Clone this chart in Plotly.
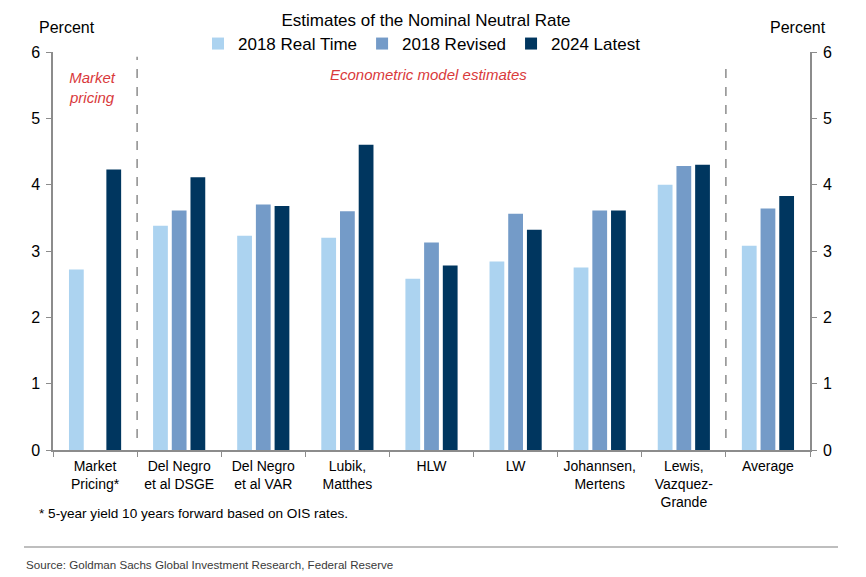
import plotly.graph_objects as go

categories = ["Market<br>Pricing*", "Del Negro<br>et al DSGE", "Del Negro<br>et al VAR", "Lubik,<br>Matthes",
              "HLW", "LW", "Johannsen,<br>Mertens", "Lewis,<br>Vazquez-<br>Grande", "Average"]
real_time_2018 = [2.72, 3.38, 3.23, 3.20, 2.58, 2.84, 2.75, 4.00, 3.08]
revised_2018 = [None, 3.61, 3.70, 3.60, 3.13, 3.56, 3.61, 4.28, 3.64]
latest_2024 = [4.23, 4.11, 3.68, 4.60, 2.78, 3.32, 3.61, 4.30, 3.83]
y_ticks = [0, 1, 2, 3, 4, 5, 6]

FONT = "Liberation Sans, Arial, sans-serif"
C1, C2, C3 = "#acd3f0", "#749bc8", "#00365f"
AX = "#8c8c8c"
RED = "#d9393b"

fig = go.Figure()
for name, vals, col in [("2018 Real Time", real_time_2018, C1),
                        ("2018 Revised", revised_2018, C2),
                        ("2024 Latest", latest_2024, C3)]:
    fig.add_trace(go.Bar(x=categories, y=vals, name=name, marker=dict(color=col, line=dict(width=0))))

# invisible trace to activate the right axis
fig.add_trace(go.Scatter(x=[categories[0]], y=[0], yaxis="y2", mode="markers",
                         marker=dict(opacity=0), showlegend=False, hoverinfo="skip"))

fig.update_layout(
    width=866, height=577,
    margin=dict(l=53, r=56, t=52, b=127),
    plot_bgcolor="white", paper_bgcolor="white",
    font=dict(family=FONT, color="#000000"),
    barmode="group", bargap=0.333, bargroupgap=0.21,
    title=dict(text="Estimates of the Nominal Neutral Rate", x=426/866, xanchor="center",
               y=1-20/577, yanchor="middle", font=dict(size=17, family=FONT)),
    legend=dict(orientation="h", x=(198-53)/757, xanchor="left", y=1+(52-44)/398, yanchor="middle",
                font=dict(size=17, family=FONT), bgcolor="rgba(0,0,0,0)", itemwidth=30,
                traceorder="normal"),
    xaxis=dict(showline=True, linecolor=AX, linewidth=1.5, ticks="outside", tickson="boundaries",
               ticklen=5, tickcolor=AX, tickfont=dict(size=14, family=FONT), showgrid=False,
               range=[-0.5, 8.5], ticklabelstandoff=2),
    yaxis=dict(range=[0, 6], tickvals=y_ticks, showline=True, linecolor=AX, linewidth=1.5,
               ticks="outside", ticklen=5, tickcolor=AX, tickfont=dict(size=16, family=FONT),
               showgrid=False, zeroline=False, ticklabelstandoff=3),
    yaxis2=dict(range=[0, 6], tickvals=y_ticks, overlaying="y", side="right", showline=True,
                linecolor=AX, linewidth=1.5, ticks="outside", ticklen=5, tickcolor=AX,
                tickfont=dict(size=16, family=FONT), showgrid=False, zeroline=False,
                ticklabelstandoff=3),
    showlegend=True,
)

# dashed separators
for xv, y0, y1 in [(0.5, 0.18, 5.93), (7.5, 0.18, 5.88)]:
    fig.add_shape(type="line", xref="x", yref="y", x0=xv, x1=xv, y0=y0, y1=y1,
                  line=dict(color="#8c8c8c", width=1.5, dash="dash"))

# bottom separator line
fig.add_shape(type="line", xref="paper", yref="paper", x0=(24-53)/757, x1=(838-53)/757,
              y0=(450-547)/398, y1=(450-547)/398, line=dict(color="#a8a8a8", width=1.5))

ann = [
    dict(text="Percent", x=(67-53)/757, y=(450-27)/398, size=16, color="#000000", anchor="center"),
    dict(text="Percent", x=(798-53)/757, y=(450-27)/398, size=16, color="#000000", anchor="center"),
    dict(text="<i>Market<br>pricing</i>", x=(92-53)/757, y=(450-87)/398, size=15, color=RED, anchor="center"),
    dict(text="<i>Econometric model estimates</i>", x=(428-53)/757, y=(450-75)/398, size=15, color=RED, anchor="center"),
]
for a in ann:
    fig.add_annotation(text=a["text"], xref="paper", yref="paper", x=a["x"], y=a["y"],
                       xanchor=a["anchor"], yanchor="middle", showarrow=False,
                       font=dict(size=a["size"], color=a["color"], family=FONT))

fig.add_annotation(text="* 5-year yield 10 years forward based on OIS rates.", xref="paper", yref="paper",
                   x=(37-53)/757, y=(450-513)/398, xanchor="left", yanchor="middle", showarrow=False,
                   font=dict(size=13.6, family=FONT, color="#000000"))
fig.add_annotation(text="Source: Goldman Sachs Global Investment Research, Federal Reserve", xref="paper", yref="paper",
                   x=(24-53)/757, y=(450-564)/398, xanchor="left", yanchor="middle", showarrow=False,
                   font=dict(size=11.6, family=FONT, color="#3a3a3a"))

fig.write_html("out.html")
